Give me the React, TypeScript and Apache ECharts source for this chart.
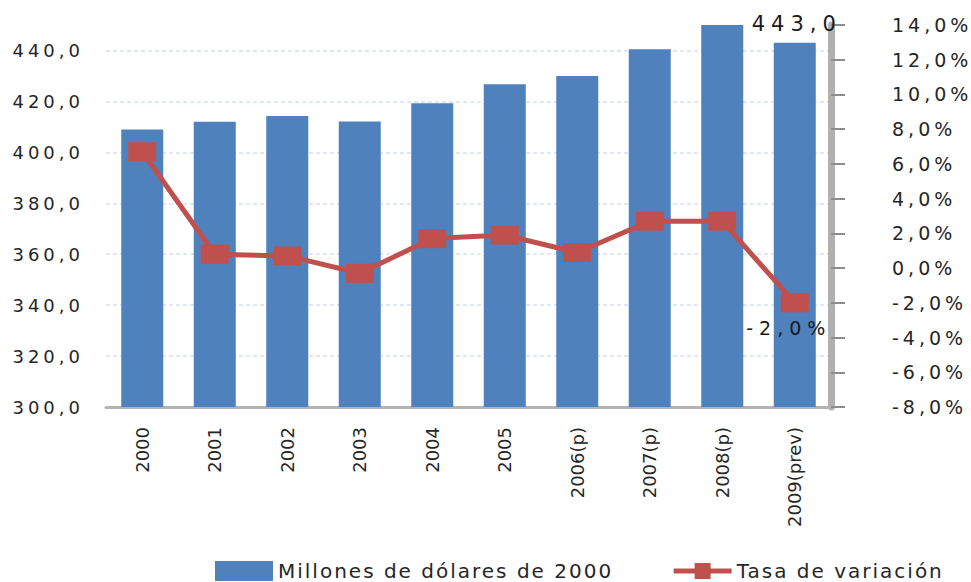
import React, { useEffect, useRef } from "react";
import * as echarts from "echarts";

const categories = ["2000", "2001", "2002", "2003", "2004", "2005", "2006(p)", "2007(p)", "2008(p)", "2009(prev)"];
const gdpValues = [409.0, 412.0, 414.3, 412.1, 419.3, 426.7, 430.0, 440.5, 450.3, 443.0];
const growthRates = [6.7, 0.8, 0.7, -0.3, 1.7, 1.9, 0.9, 2.7, 2.7, -2.0];
const seriesNames = ["Millones de dólares de 2000", "Tasa de variación"];
const leftAxisRange = [300, 450];
const leftAxisStep = 20;
const rightAxisRange = [-8, 14];
const rightAxisStep = 2;
const labelledIndex = 9;

const BAR_COLOR = "#4f81bd";
const LINE_COLOR = "#c0504d";
const TEXT_COLOR = "#262626";
const WIDE_FONT = "Tahoma, 'DejaVu Sans', sans-serif";
const WIDER_FONT = "Geneva, 'DejaVu Sans', sans-serif";
const LEGEND_FONT = "Verdana, 'DejaVu Sans', sans-serif";
const PLAIN_FONT = "'DejaVu Sans', sans-serif";

const fmtNum = (v: number) => v.toFixed(1).replace(".", ",");

export default function App() {
  const ref = useRef<HTMLDivElement>(null);

  useEffect(() => {
    document.body.style.margin = "0";
    if (!ref.current) return;
    const chart = echarts.init(ref.current, undefined, { renderer: "svg" });
    chart.setOption({
      animation: false,
      backgroundColor: "#ffffff",
      legend: {
        left: 210,
        top: 556,
        itemWidth: 58,
        itemHeight: 20,
        itemGap: 112,
        textStyle: { fontFamily: LEGEND_FONT, fontSize: 20, color: TEXT_COLOR },
        data: [
          { name: seriesNames[0], icon: "rect" },
          { name: seriesNames[1], lineStyle: { width: 5, color: LINE_COLOR } },
        ],
      },
      grid: {
        left: 106,
        right: 140,
        top: 25,
        bottom: 175,
        containLabel: false,
        outerBoundsMode: "none",
      },
      xAxis: {
        type: "category",
        data: categories,
        axisLine: { show: true, onZero: false, lineStyle: { color: "#b3b3b3", width: 3 } },
        axisTick: { show: false },
        axisLabel: {
          rotate: 90,
          margin: 20,
          interval: 0,
          fontFamily: PLAIN_FONT,
          fontSize: 18,
          color: TEXT_COLOR,
        },
      },
      yAxis: [
        {
          type: "value",
          min: leftAxisRange[0],
          max: leftAxisRange[1],
          interval: leftAxisStep,
          axisLine: { show: false },
          axisTick: { show: false },
          splitLine: {
            show: true,
            showMaxLine: false,
            showMinLine: false,
            lineStyle: { color: "#d8e0ee", type: [4, 3], width: 1.5 },
          },
          axisLabel: {
            showMaxLabel: false,
            margin: 22,
            fontFamily: WIDE_FONT,
            fontSize: 18,
            color: TEXT_COLOR,
            formatter: (v: number) => fmtNum(v),
          },
        },
        {
          type: "value",
          position: "right",
          min: rightAxisRange[0],
          max: rightAxisRange[1],
          interval: rightAxisStep,
          axisLine: { show: true, lineStyle: { color: "#b0b0b0", width: 7 } },
          axisTick: { show: true, length: 14, lineStyle: { color: "#8c8c8c", width: 2 } },
          splitLine: { show: false },
          axisLabel: {
            margin: 61,
            fontFamily: WIDE_FONT,
            fontSize: 19,
            color: TEXT_COLOR,
            formatter: (v: number) => fmtNum(v) + "%",
          },
        },
      ],
      series: [
        {
          name: seriesNames[0],
          type: "bar",
          yAxisIndex: 0,
          barWidth: 42,
          itemStyle: { color: BAR_COLOR },
          data: gdpValues.map((v, i) =>
            i === labelledIndex
              ? {
                  value: v,
                  label: {
                    show: true,
                    position: "top",
                    distance: 2,
                    offset: [2, -6],
                    fontFamily: WIDER_FONT,
                    fontSize: 21,
                    color: "#1a1a1a",
                    formatter: (p: any) => fmtNum(p.value),
                  },
                }
              : v
          ),
        },
        {
          name: seriesNames[1],
          type: "line",
          yAxisIndex: 1,
          symbol: "rect",
          symbolSize: [28, 19],
          lineStyle: { color: LINE_COLOR, width: 5 },
          itemStyle: { color: LINE_COLOR },
          data: growthRates.map((v, i) =>
            i === labelledIndex
              ? {
                  value: v,
                  label: {
                    show: true,
                    position: "bottom",
                    distance: 6,
                    offset: [-6, 0],
                    fontFamily: WIDER_FONT,
                    fontSize: 19,
                    color: "#1a1a1a",
                    formatter: (p: any) => fmtNum(p.value) + "%",
                  },
                }
              : v
          ),
        },
      ],
    });
    return () => chart.dispose();
  }, []);

  return (
    <>
      <style>{`
        #root svg text[style*="Tahoma"] { letter-spacing: 4px; }
        #root svg text[font-family*="Tahoma"] { letter-spacing: 4px; }
        #root svg text[style*="Geneva"] { letter-spacing: 6px; }
        #root svg text[font-family*="Geneva"] { letter-spacing: 6px; }
        #root svg text[style*="Verdana"] { letter-spacing: 2px; }
        #root svg text[font-family*="Verdana"] { letter-spacing: 2px; }
      `}</style>
      <div ref={ref} style={{ width: 971, height: 582 }} />
    </>
  );
}
